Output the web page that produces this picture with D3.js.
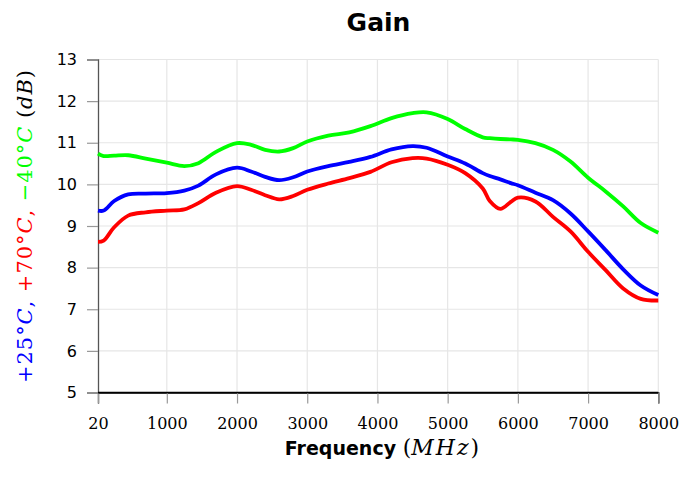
<!DOCTYPE html>
<html><head><meta charset="utf-8">
<script src="https://cdn.jsdelivr.net/npm/d3@7"></script>
<style>body{margin:0;background:#fff}</style>
</head><body>
<svg id="c" width="682" height="477"></svg>
<script>
const freq = [20,100,250,450,700,1000,1250,1450,1700,2000,2200,2400,2600,2800,3000,3300,3600,3900,4200,4500,4700,5000,5250,5500,5600,5750,5900,6000,6250,6500,6750,7000,7250,7500,7750,8000];
const gain25 = [9.37,9.37,9.60,9.76,9.78,9.79,9.85,9.97,10.24,10.40,10.31,10.18,10.10,10.17,10.31,10.44,10.54,10.66,10.84,10.92,10.88,10.67,10.50,10.27,10.20,10.12,10.03,9.98,9.80,9.62,9.30,8.87,8.42,7.96,7.57,7.34];
const gain70 = [8.62,8.65,8.97,9.25,9.33,9.37,9.40,9.55,9.80,9.96,9.87,9.74,9.64,9.72,9.87,10.02,10.15,10.30,10.53,10.63,10.62,10.47,10.27,9.90,9.60,9.41,9.58,9.68,9.59,9.22,8.87,8.38,7.94,7.50,7.25,7.21];
const gainM40 = [10.74,10.68,10.69,10.70,10.62,10.52,10.44,10.51,10.78,10.99,10.95,10.83,10.79,10.87,11.03,11.17,11.25,11.40,11.59,11.71,11.73,11.57,11.33,11.13,11.11,11.09,11.08,11.07,10.99,10.83,10.55,10.16,9.83,9.47,9.07,8.84];
const xTicks = [20,1000,2000,3000,4000,5000,6000,7000,8000];
const yTicks = [5,6,7,8,9,10,11,12,13];
const series = [
  {name:"+25°C", values:gain25, color:"#0000ff"},
  {name:"+70°C", values:gain70, color:"#ff0000"},
  {name:"−40°C", values:gainM40, color:"#00ff00"}
];

const svg = d3.select("#c");
const x = d3.scaleLinear().domain([20,8000]).range([98,658.3]);
const y = d3.scaleLinear().domain([5,13]).range([392.5,59.5]);

// grid
const g = svg.append("g");
g.selectAll(".vg").data(xTicks.slice(1)).join("line")
  .attr("x1",d=>x(d)).attr("x2",d=>x(d)).attr("y1",y(5)).attr("y2",y(13))
  .attr("stroke","#e6e6e6").attr("stroke-width",1.2);
g.selectAll(".hg").data(yTicks.slice(1)).join("line")
  .attr("x1",x(20)).attr("x2",x(8000)).attr("y1",d=>y(d)).attr("y2",d=>y(d))
  .attr("stroke","#e6e6e6").attr("stroke-width",1.2);

// axes
const xAxis = d3.axisBottom(x).tickValues(xTicks).tickSize(11).tickPadding(14).tickFormat(d3.format("d"));
const xg = svg.append("g").attr("transform",`translate(0,${y(5)})`).call(xAxis);
xg.select(".domain").attr("stroke","#000").attr("stroke-width",1.3);
xg.selectAll(".tick line").attr("stroke","#999").attr("stroke-width",1.2);
xg.selectAll(".tick text").attr("font-family","'DejaVu Serif', serif").attr("font-size",16).attr("fill","#000");

const yAxis = d3.axisLeft(y).tickValues(yTicks).tickSize(11).tickPadding(10);
const yg = svg.append("g").attr("transform",`translate(${x(20)},0)`).call(yAxis);
yg.select(".domain").attr("stroke","#555").attr("stroke-width",1.3);
yg.selectAll(".tick line").attr("stroke","#999").attr("stroke-width",1.2);
yg.selectAll(".tick text").attr("font-family","'DejaVu Sans', sans-serif").attr("font-size",16).attr("fill","#000");
svg.append("line").attr("x1",x(20)).attr("x2",x(8000)).attr("y1",y(5)).attr("y2",y(5)).attr("stroke","#000").attr("stroke-width",1.3);

// lines
const line = d3.line().x((d,i)=>x(freq[i])).y(d=>y(d)).curve(d3.curveCatmullRom.alpha(0.5));
svg.selectAll(".series").data(series).join("path")
  .attr("fill","none").attr("stroke",d=>d.color).attr("stroke-width",3.8)
  .attr("stroke-linejoin","round")
  .attr("d",d=>line(d.values));

// title
svg.append("text").attr("x",378.5).attr("y",31).attr("text-anchor","middle")
  .attr("font-family","'DejaVu Sans', sans-serif").attr("font-weight","bold").attr("font-size",25).text("Gain");

// x label
const xl = svg.append("text").attr("x",382).attr("y",455).attr("text-anchor","middle");
xl.append("tspan").attr("font-family","'DejaVu Sans', sans-serif").attr("font-weight","bold").attr("font-size",19).text("Frequency ");
xl.append("tspan").attr("font-family","'DejaVu Serif', serif").attr("font-size",22).text("(");
xl.append("tspan").attr("font-family","'DejaVu Serif', serif").attr("font-style","italic").attr("font-size",22).attr("letter-spacing",2).text("MHz");
xl.append("tspan").attr("font-family","'DejaVu Serif', serif").attr("font-size",22).text(")");

// y label
const yl = svg.append("text").attr("transform","translate(32,226.5) rotate(-90)")
  .attr("text-anchor","middle").attr("font-family","'DejaVu Serif', serif").attr("font-size",21)
  .attr("textLength",313).attr("lengthAdjust","spacing");
series.forEach((s,i)=>{
  const num = s.name.replace("°C","");
  yl.append("tspan").attr("fill",s.color).text(num+"°");
  yl.append("tspan").attr("fill",s.color).attr("font-style","italic").text("C");
  yl.append("tspan").attr("fill",s.color).text(i<2?", ":" ");
});
yl.append("tspan").attr("fill","#000").text("(");
yl.append("tspan").attr("fill","#000").attr("font-style","italic").text("dB");
yl.append("tspan").attr("fill","#000").text(")");
</script>
</body></html>
